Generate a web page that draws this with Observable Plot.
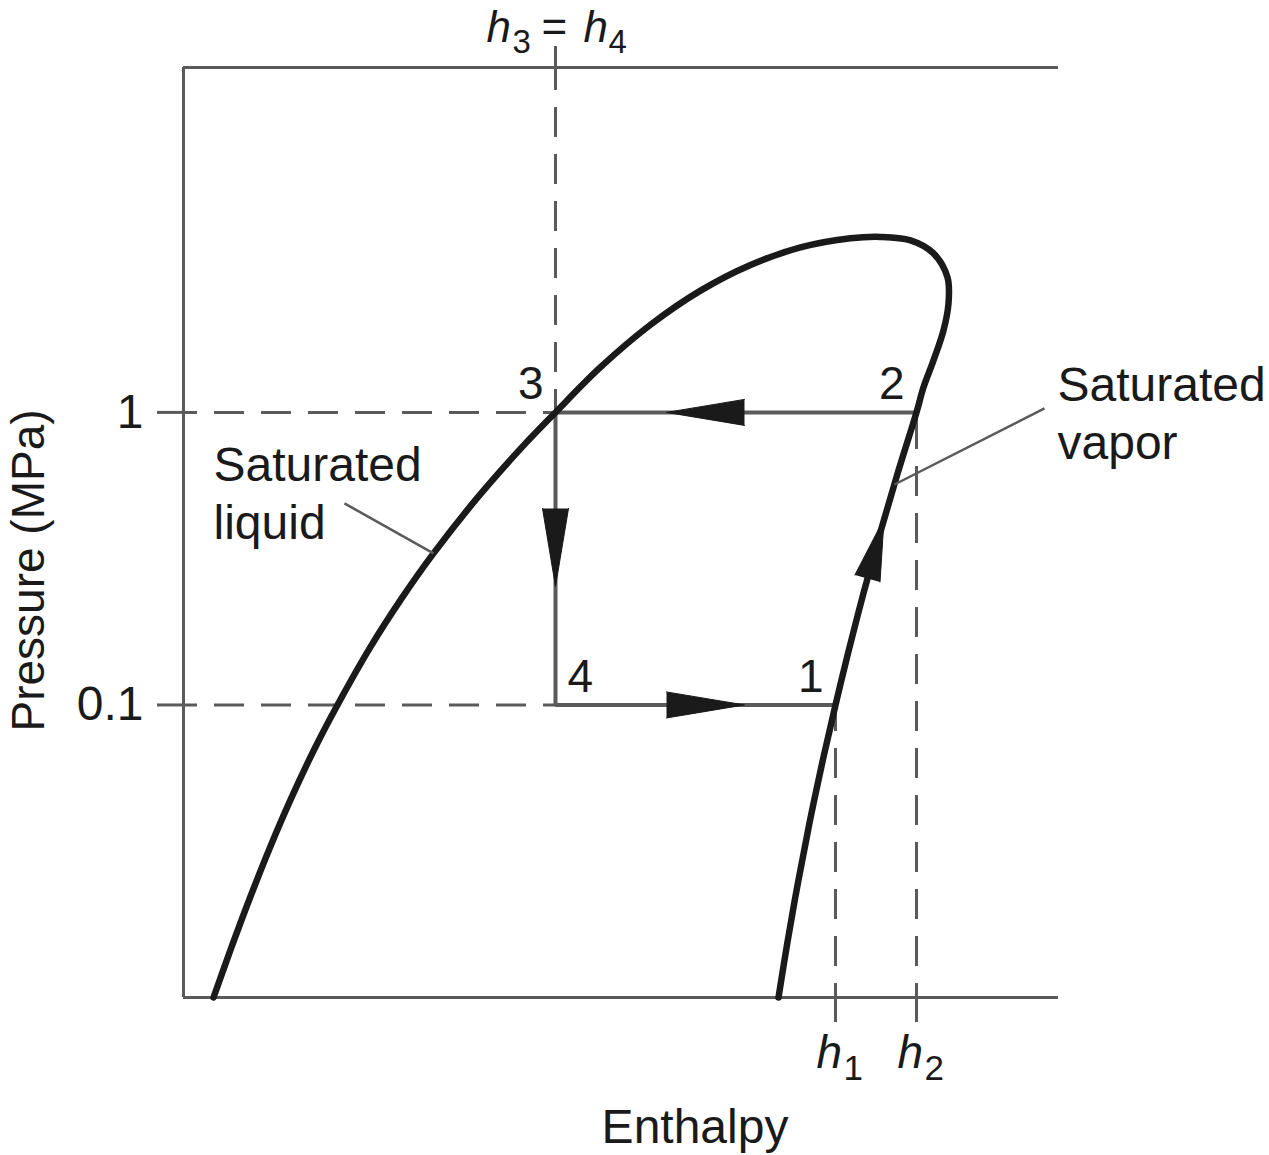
<!DOCTYPE html>
<html>
<head>
<meta charset="utf-8">
<script src="https://cdn.jsdelivr.net/npm/d3@7"></script>
<script src="https://cdn.jsdelivr.net/npm/@observablehq/plot@0.6"></script>
<style>
  html, body { margin: 0; padding: 0; background: #fff; overflow: hidden; }
  #chart svg { display: block; }
</style>
</head>
<body>
<div id="chart"></div>
<script>
// ---------------- data ----------------
// Saturation dome (saturated liquid -> critical region -> saturated vapor), enthalpy in arbitrary units, pressure in MPa
const domeH = [30, 47.9, 66.6, 86.5, 108.1, 131.7, 154, 186.7, 218.8, 250, 294.2, 338.3, 372,
               417, 467, 517, 567, 617, 667, 697, 727, 750, 764, 765, 760, 750, 740, 733,
               714.4, 696.8, 680.2, 664.7, 652, 638.8, 626.1, 614.5, 603.9, 595];
const domeP = [0.01, 0.01483, 0.02197, 0.03257, 0.04829, 0.07157, 0.1, 0.1573, 0.2331, 0.3296, 0.5122, 0.7592, 1,
               1.427, 1.993, 2.607, 3.191, 3.663, 3.936, 3.981, 3.873, 3.497, 2.894, 2.359, 1.907, 1.506, 1.218, 1,
               0.6235, 0.3888, 0.2424, 0.1511, 0.1, 0.06359, 0.03966, 0.02472, 0.01542, 0.01];

// Cycle states
const stateNames = ["1", "2", "3", "4"];
const stateH = [652, 733, 372, 372];
const stateP = [0.1, 1, 1, 0.1];

// order in which the thin process lines are drawn (2 -> 3 -> 4 -> 1)
const cycleOrder = ["2", "3", "4", "1"];

// Arrowheads: process from -> to, base position (h, p)
const arrowFrom = ["2", "3", "4", "1"];
const arrowTo   = ["3", "4", "1", "2"];
const arrowH    = [561, 372, 483, 684];
const arrowP    = [1, 0.4696, 0.1, 0.2707];

// Axis ticks
const pressureTicks = [0.1, 1];
const pressureTickLabels = ["0.1", "1"];
const xDomain = [0, 875];
const yDomain = [0.01, 15.1];

// Titles and annotations
const xTitle = "Enthalpy";
const yTitle = "Pressure (MPa)";
const annotationText = ["Saturated\nliquid", "Saturated\nvapor"];
const annotationH = [30, 874];
const annotationP = [0.368, 0.691];
const leaderFromH = [161, 861];
const leaderFromP = [0.4886, 1.032];
const leaderToH = [250, 711];
const leaderToP = [0.3296, 0.567];

// ---------------- build tables ----------------
const dome = domeH.map((h, i) => ({h, p: domeP[i]}));
const states = stateNames.map((name, i) => ({name, h: stateH[i], p: stateP[i]}));
const stateOf = Object.fromEntries(states.map(s => [s.name, s]));
const cycle = cycleOrder.map(n => stateOf[n]);
const annotations = annotationText.map((text, i) => ({text, h: annotationH[i], p: annotationP[i]}));
const leaders = leaderFromH.map((h, i) => ({h1: h, p1: leaderFromP[i], h2: leaderToH[i], p2: leaderToP[i]}));

// ---------------- layout ----------------
const W = 1269, H = 1155;
const mL = 183, mR = 211, mT = 67, mB = 158;
const gray = "#5a5a5a", ink = "#1a1a1a";
const font = "'Liberation Sans', Arial, Helvetica, sans-serif";
const fs = 48, fsSub = 35;

const xs = Plot.scale({x: {domain: xDomain, range: [mL, W - mR]}});
const ys = Plot.scale({y: {type: "log", domain: yDomain, range: [H - mB, mT]}});
function screenAngle(a, b) {
  const dx = xs.apply(b.h) - xs.apply(a.h);
  const dy = ys.apply(b.p) - ys.apply(a.p);
  return Math.atan2(dx, -dy) * 180 / Math.PI;
}
const arrows = arrowFrom.map((f, i) => ({
  h: arrowH[i], p: arrowP[i],
  rotate: screenAngle(stateOf[f], stateOf[arrowTo[i]]),
  onDome: f === "1"
}));

const h1 = stateOf["1"].h, h2 = stateOf["2"].h, h3 = stateOf["3"].h;
const bottomLabels = [{h: h1, sub: "1"}, {h: h2, sub: "2"}];
const topLabel = [{h: h3, a: "3", b: "4"}];

const txt = {fill: ink, fontFamily: font, fontSize: fs, lineAnchor: "bottom"};
const dash = {stroke: gray, strokeWidth: 3, strokeDasharray: "30,17"};

const chart = Plot.plot({
  width: W, height: H,
  marginLeft: mL, marginRight: mR, marginTop: mT, marginBottom: mB,
  style: {fontFamily: font, fontSize: fs + "px", background: "#fff", color: ink},
  x: {domain: xDomain, label: null},
  y: {type: "log", domain: yDomain, label: null},
  marks: [
    // frame
    Plot.ruleY([yDomain[0], yDomain[1]], {stroke: gray, strokeWidth: 3}),
    Plot.ruleX([xDomain[0]], {stroke: gray, strokeWidth: 3}),
    // dashed guides
    Plot.ruleY(pressureTicks, {x1: xDomain[0], x2: h3, ...dash, strokeDashoffset: 16}),
    Plot.ruleX([h3], {y1: yDomain[1], y2: 1, ...dash, strokeDashoffset: 7}),
    Plot.ruleX([h1], {y1: yDomain[0], y2: stateOf["1"].p, ...dash, strokeDashoffset: 16}),
    Plot.ruleX([h2], {y1: yDomain[0], y2: stateOf["2"].p, ...dash, strokeDashoffset: 16}),
    // axes
    Plot.axisY(pressureTicks, {
      anchor: "left", tickSize: 26, tickPadding: 14, label: null,
      tickFormat: d => pressureTickLabels[pressureTicks.indexOf(d)],
      stroke: gray, strokeWidth: 3, fill: ink, fontSize: fs, fontFamily: font
    }),
    Plot.axisX([h1, h2], {anchor: "bottom", tickSize: 25, tickFormat: () => "", label: null, stroke: gray, strokeWidth: 3}),
    Plot.axisX([h3], {anchor: "top", tickSize: 22, tickFormat: () => "", label: null, stroke: gray, strokeWidth: 3}),
    // cycle process lines
    Plot.line(cycle, {x: "h", y: "p", stroke: gray, strokeWidth: 4, strokeLinejoin: "miter"}),
    // saturation dome
    Plot.line(dome, {x: "h", y: "p", curve: "catmull-rom", stroke: ink, strokeWidth: 6.5, strokeLinejoin: "round"}),
    // arrowheads
    Plot.vector(arrows.filter(d => !d.onDome), {
      x: "h", y: "p", rotate: "rotate", length: 78, anchor: "start", shape: "spike", r: 13,
      fill: ink, stroke: ink, strokeWidth: 1
    }),
    Plot.vector(arrows.filter(d => d.onDome), {
      x: "h", y: "p", rotate: "rotate", length: 62, anchor: "start", shape: "spike", r: 13,
      fill: ink, stroke: ink, strokeWidth: 1
    }),
    // leader lines
    Plot.link(leaders, {x1: "h1", y1: "p1", x2: "h2", y2: "p2", stroke: gray, strokeWidth: 2.5}),
    // annotations
    Plot.text(annotations, {x: "h", y: "p", text: "text", textAnchor: "start", lineHeight: 1.21, ...txt}),
    // state numbers
    Plot.text(states.filter(s => s.name !== "4"), {x: "h", y: "p", text: "name", dx: -12, dy: -13, textAnchor: "end", ...txt, fontSize: 46}),
    Plot.text(states.filter(s => s.name === "4"), {x: "h", y: "p", text: "name", dx: 12, dy: -13, textAnchor: "start", ...txt, fontSize: 46}),
    // h1, h2 labels below the axis
    Plot.text(bottomLabels, {x: "h", frameAnchor: "bottom", text: () => "h", fontStyle: "italic", dx: -19, dy: 70, textAnchor: "start", ...txt, fontSize: 46}),
    Plot.text(bottomLabels, {x: "h", frameAnchor: "bottom", text: "sub", dx: 8, dy: 82, textAnchor: "start", ...txt, fontSize: fsSub}),
    // h3 = h4 label above
    Plot.text(topLabel, {x: "h", frameAnchor: "top", text: () => "h", fontStyle: "italic", dx: -69, dy: -26, textAnchor: "start", ...txt, fontSize: 44}),
    Plot.text(topLabel, {x: "h", frameAnchor: "top", text: "a", dx: -43, dy: -15, textAnchor: "start", ...txt, fontSize: 33}),
    Plot.text(topLabel, {x: "h", frameAnchor: "top", text: () => "=", dx: -14, dy: -26, textAnchor: "start", ...txt, fontSize: 44}),
    Plot.text(topLabel, {x: "h", frameAnchor: "top", text: () => "h", fontStyle: "italic", dx: 28, dy: -26, textAnchor: "start", ...txt, fontSize: 44}),
    Plot.text(topLabel, {x: "h", frameAnchor: "top", text: "b", dx: 53, dy: -15, textAnchor: "start", ...txt, fontSize: 33}),
    // axis titles
    Plot.text([xTitle], {frameAnchor: "bottom", text: d => d, dx: 74, dy: 145, textAnchor: "middle", ...txt}),
    Plot.text([yTitle], {frameAnchor: "left", text: d => d, rotate: -90, dx: -140, dy: 38, textAnchor: "middle", ...txt, fontSize: 46})
  ]
});
document.getElementById("chart").appendChild(chart);
</script>
</body>
</html>
